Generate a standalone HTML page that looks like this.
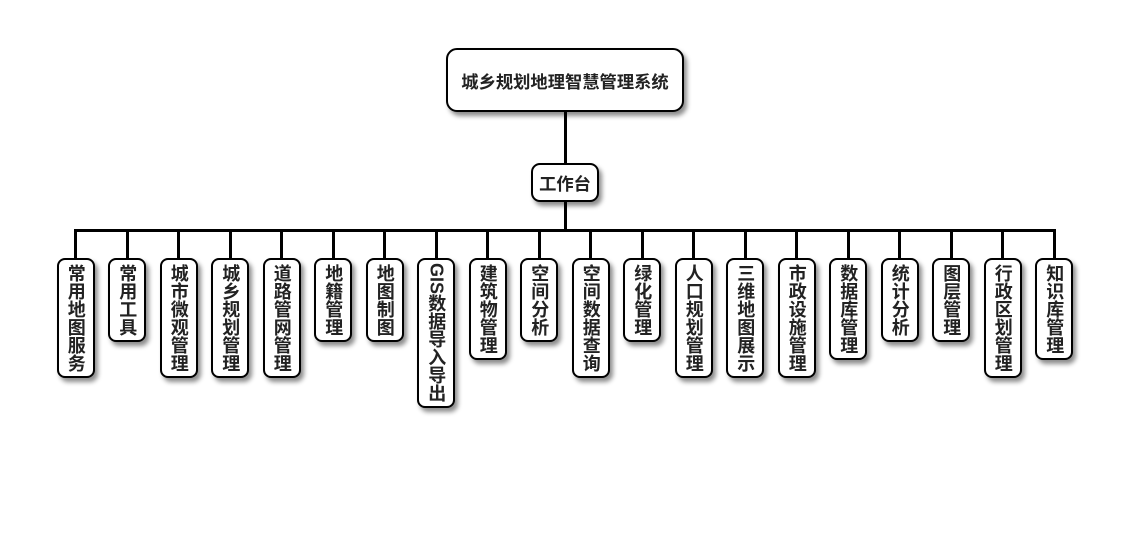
<!DOCTYPE html>
<html>
<head>
<meta charset="utf-8">
<style>
html,body{margin:0;padding:0;background:#fff;}
body{width:1130px;height:560px;position:relative;overflow:hidden;font-family:"Liberation Sans","Noto Sans CJK SC",sans-serif;}
.ln{position:absolute;background:#000;}
.box{position:absolute;box-sizing:border-box;border:2px solid #000;background:#fff;box-shadow:3px 4px 5px rgba(0,0,0,0.45);color:#222;font-weight:bold;}
.h{display:flex;align-items:center;justify-content:center;font-size:17.3px;white-space:nowrap;}
.v{width:38px;top:258px;border-radius:8px;writing-mode:vertical-rl;text-orientation:mixed;text-align:center;line-height:34px;font-size:18px;white-space:nowrap;}
</style>
</head>
<body>
<!-- connectors -->
<div class="ln" style="left:563.5px;top:110px;width:3px;height:55px;"></div>
<div class="ln" style="left:563.5px;top:200px;width:3px;height:31px;"></div>
<div class="ln" style="left:74px;top:229px;width:982px;height:3px;"></div>

<div class="ln" style="left:74.3px;top:229px;width:3px;height:31px;"></div>
<div class="ln" style="left:125.8px;top:229px;width:3px;height:31px;"></div>
<div class="ln" style="left:177.3px;top:229px;width:3px;height:31px;"></div>
<div class="ln" style="left:228.8px;top:229px;width:3px;height:31px;"></div>
<div class="ln" style="left:280.3px;top:229px;width:3px;height:31px;"></div>
<div class="ln" style="left:331.8px;top:229px;width:3px;height:31px;"></div>
<div class="ln" style="left:383.3px;top:229px;width:3px;height:31px;"></div>
<div class="ln" style="left:434.8px;top:229px;width:3px;height:31px;"></div>
<div class="ln" style="left:486.3px;top:229px;width:3px;height:31px;"></div>
<div class="ln" style="left:537.8px;top:229px;width:3px;height:31px;"></div>
<div class="ln" style="left:589.3px;top:229px;width:3px;height:31px;"></div>
<div class="ln" style="left:640.8px;top:229px;width:3px;height:31px;"></div>
<div class="ln" style="left:692.3px;top:229px;width:3px;height:31px;"></div>
<div class="ln" style="left:743.8px;top:229px;width:3px;height:31px;"></div>
<div class="ln" style="left:795.3px;top:229px;width:3px;height:31px;"></div>
<div class="ln" style="left:846.8px;top:229px;width:3px;height:31px;"></div>
<div class="ln" style="left:898.3px;top:229px;width:3px;height:31px;"></div>
<div class="ln" style="left:949.8px;top:229px;width:3px;height:31px;"></div>
<div class="ln" style="left:1001.3px;top:229px;width:3px;height:31px;"></div>
<div class="ln" style="left:1052.8px;top:229px;width:3px;height:31px;"></div>

<!-- root -->
<div class="box h" style="left:446px;top:48px;width:238px;height:64px;border-radius:11px;">城乡规划地理智慧管理系统</div>
<!-- level 1 -->
<div class="box h" style="left:531px;top:163px;width:68px;height:39px;border-radius:9px;">工作台</div>

<!-- children -->
<div class="box v" style="left:56.8px;height:120px;">常用地图服务</div>
<div class="box v" style="left:108.3px;height:84px;">常用工具</div>
<div class="box v" style="left:159.8px;height:120px;">城市微观管理</div>
<div class="box v" style="left:211.3px;height:120px;">城乡规划管理</div>
<div class="box v" style="left:262.8px;height:120px;">道路管网管理</div>
<div class="box v" style="left:314.3px;height:84px;">地籍管理</div>
<div class="box v" style="left:365.8px;height:84px;">地图制图</div>
<div class="box v" style="left:417.3px;height:150px;">GIS数据导入导出</div>
<div class="box v" style="left:468.8px;height:102px;">建筑物管理</div>
<div class="box v" style="left:520.3px;height:84px;">空间分析</div>
<div class="box v" style="left:571.8px;height:120px;">空间数据查询</div>
<div class="box v" style="left:623.3px;height:84px;">绿化管理</div>
<div class="box v" style="left:674.8px;height:120px;">人口规划管理</div>
<div class="box v" style="left:726.3px;height:120px;">三维地图展示</div>
<div class="box v" style="left:777.8px;height:120px;">市政设施管理</div>
<div class="box v" style="left:829.3px;height:102px;">数据库管理</div>
<div class="box v" style="left:880.8px;height:84px;">统计分析</div>
<div class="box v" style="left:932.3px;height:84px;">图层管理</div>
<div class="box v" style="left:983.8px;height:120px;">行政区划管理</div>
<div class="box v" style="left:1035.3px;height:102px;">知识库管理</div>
</body>
</html>
